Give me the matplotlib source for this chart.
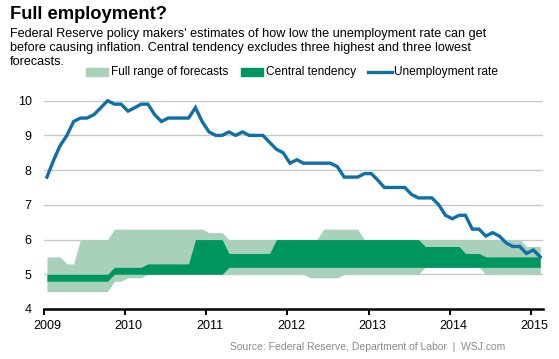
import matplotlib
matplotlib.use("Agg")
import matplotlib.pyplot as plt
import matplotlib.dates as mdates
import matplotlib.transforms as mtransforms
from matplotlib.patches import Rectangle
import pandas as pd

plt.rcParams['font.family'] = ['Liberation Sans', 'DejaVu Sans']

# monthly, Jan 2009 - Feb 2015
unemployment = [
    7.8, 8.3, 8.7, 9.0, 9.4, 9.5, 9.5, 9.6, 9.8, 10.0, 9.9, 9.9,
    9.7, 9.8, 9.9, 9.9, 9.6, 9.4, 9.5, 9.5, 9.5, 9.5, 9.8, 9.4,
    9.1, 9.0, 9.0, 9.1, 9.0, 9.1, 9.0, 9.0, 9.0, 8.8, 8.6, 8.5,
    8.2, 8.3, 8.2, 8.2, 8.2, 8.2, 8.2, 8.1, 7.8, 7.8, 7.8, 7.9,
    7.9, 7.7, 7.5, 7.5, 7.5, 7.5, 7.3, 7.2, 7.2, 7.2, 7.0, 6.7,
    6.6, 6.7, 6.7, 6.3, 6.3, 6.1, 6.2, 6.1, 5.9, 5.8, 5.8, 5.6,
    5.7, 5.5,
]
range_high = [
    5.5, 5.5, 5.5, 5.3, 5.3, 6.0, 6.0, 6.0, 6.0, 6.0, 6.3, 6.3,
    6.3, 6.3, 6.3, 6.3, 6.3, 6.3, 6.3, 6.3, 6.3, 6.3, 6.3, 6.3,
    6.2, 6.2, 6.2, 6.0, 6.0, 6.0, 6.0, 6.0, 6.0, 6.0, 6.0, 6.0,
    6.0, 6.0, 6.0, 6.0, 6.0, 6.3, 6.3, 6.3, 6.3, 6.3, 6.3, 6.0,
    6.0, 6.0, 6.0, 6.0, 6.0, 6.0, 6.0, 6.0, 6.0, 6.0, 6.0, 6.0,
    6.0, 6.0, 6.0, 6.0, 6.0, 6.0, 6.0, 6.0, 6.0, 6.0, 6.0, 5.8,
    5.8, 5.8,
]
range_low = [
    4.5, 4.5, 4.5, 4.5, 4.5, 4.5, 4.5, 4.5, 4.5, 4.5, 4.8, 4.8,
    4.9, 4.9, 4.9, 5.0, 5.0, 5.0, 5.0, 5.0, 5.0, 5.0, 5.0, 5.0,
    5.0, 5.0, 5.0, 5.0, 5.0, 5.0, 5.0, 5.0, 5.0, 5.0, 5.0, 5.0,
    5.0, 5.0, 5.0, 4.9, 4.9, 4.9, 4.9, 4.9, 5.0, 5.0, 5.0, 5.0,
    5.0, 5.0, 5.0, 5.0, 5.0, 5.0, 5.0, 5.0, 5.2, 5.2, 5.2, 5.2,
    5.2, 5.2, 5.2, 5.2, 5.2, 5.0, 5.0, 5.0, 5.0, 5.0, 5.0, 5.0,
    5.0, 5.0,
]
central_high = [
    5.0, 5.0, 5.0, 5.0, 5.0, 5.0, 5.0, 5.0, 5.0, 5.0, 5.2, 5.2,
    5.2, 5.2, 5.2, 5.3, 5.3, 5.3, 5.3, 5.3, 5.3, 5.3, 6.0, 6.0,
    6.0, 6.0, 6.0, 5.6, 5.6, 5.6, 5.6, 5.6, 5.6, 5.6, 6.0, 6.0,
    6.0, 6.0, 6.0, 6.0, 6.0, 6.0, 6.0, 6.0, 6.0, 6.0, 6.0, 6.0,
    6.0, 6.0, 6.0, 6.0, 6.0, 6.0, 6.0, 6.0, 5.8, 5.8, 5.8, 5.8,
    5.8, 5.8, 5.6, 5.6, 5.6, 5.5, 5.5, 5.5, 5.5, 5.5, 5.5, 5.5,
    5.5, 5.5,
]
central_low = [
    4.8, 4.8, 4.8, 4.8, 4.8, 4.8, 4.8, 4.8, 4.8, 4.8, 5.0, 5.0,
    5.0, 5.0, 5.0, 5.0, 5.0, 5.0, 5.0, 5.0, 5.0, 5.0, 5.0, 5.0,
    5.0, 5.0, 5.0, 5.2, 5.2, 5.2, 5.2, 5.2, 5.2, 5.2, 5.2, 5.2,
    5.2, 5.2, 5.2, 5.2, 5.2, 5.2, 5.2, 5.2, 5.2, 5.2, 5.2, 5.2,
    5.2, 5.2, 5.2, 5.2, 5.2, 5.2, 5.2, 5.2, 5.2, 5.2, 5.2, 5.2,
    5.2, 5.2, 5.2, 5.2, 5.2, 5.2, 5.2, 5.2, 5.2, 5.2, 5.2, 5.2,
    5.2, 5.2,
]
dates = pd.date_range("2009-01-01", periods=len(unemployment), freq="MS") + pd.Timedelta(days=12)

light = "#a9d1ba"
dark = "#00965f"
blue = "#0f6fa6"

fig = plt.figure(figsize=(5.59, 3.59), dpi=100)
ax = fig.add_axes([0.0792, 0.1393, 0.892, 0.5802])

ax.fill_between(dates, range_low, range_high, color=light, lw=0, zorder=1)
ax.fill_between(dates, central_low, central_high, color=dark, lw=0, zorder=2)
ax.plot(dates, unemployment, color=blue, lw=2.4, zorder=3, clip_on=False,
        solid_joinstyle="miter")

ax.set_xlim(pd.Timestamp("2009-01-01"), pd.Timestamp("2015-02-25"))
ax.set_ylim(4, 10)
ax.set_yticks([4, 5, 6, 7, 8, 9, 10])
ax.xaxis.set_major_locator(mdates.YearLocator())
ax.xaxis.set_major_formatter(mdates.DateFormatter("%Y"))

ax.grid(axis="y", color="#c8c8c8", lw=1, zorder=0)
ax.set_axisbelow(True)
for s in ["top", "right", "left"]:
    ax.spines[s].set_visible(False)
ax.spines["bottom"].set_linewidth(1.8)
ax.spines["bottom"].set_zorder(4)
ax.tick_params(axis="y", length=0, pad=9, labelsize=9)
ax.tick_params(axis="x", length=4, width=1.4, pad=4, labelsize=9)
offset = mtransforms.ScaledTranslation(0.035, 0, fig.dpi_scale_trans)
for lab in ax.get_xticklabels():
    lab.set_transform(lab.get_transform() + offset)

# header
W, H = 559, 359
fig.text(10 / W, 1 - 19 / H, "Full employment?", fontsize=13.2, fontweight="bold")
sub = ["Federal Reserve policy makers' estimates of how low the unemployment rate can get",
       "before causing inflation. Central tendency excludes three highest and three lowest",
       "forecasts."]
for i, line in enumerate(sub):
    fig.text(10 / W, 1 - (37 + 14.2 * i) / H, line, fontsize=9.1, va="baseline")

# legend
ly = 1 - 75.5 / H
fig.patches.append(Rectangle((86 / W, ly), 22 / W, 7 / H, color=light, transform=fig.transFigure))
fig.text(111 / W, ly, "Full range of forecasts", fontsize=8.6, va="baseline")
fig.patches.append(Rectangle((241 / W, ly), 22 / W, 7 / H, color=dark, transform=fig.transFigure))
fig.text(266 / W, ly, "Central tendency", fontsize=8.6, va="baseline")
fig.lines.append(plt.Line2D([368 / W, 392 / W], [ly + 3.5 / H] * 2, color=blue, lw=2.4,
                            transform=fig.transFigure))
fig.text(394 / W, ly, "Unemployment rate", fontsize=8.6, va="baseline")

fig.text(505 / W, 1 - 350 / H, "Source: Federal Reserve, Department of Labor  |  WSJ.com",
         fontsize=7.5, color="#8a8a8a", ha="right", va="baseline")

fig.savefig("out.png", dpi=100)
